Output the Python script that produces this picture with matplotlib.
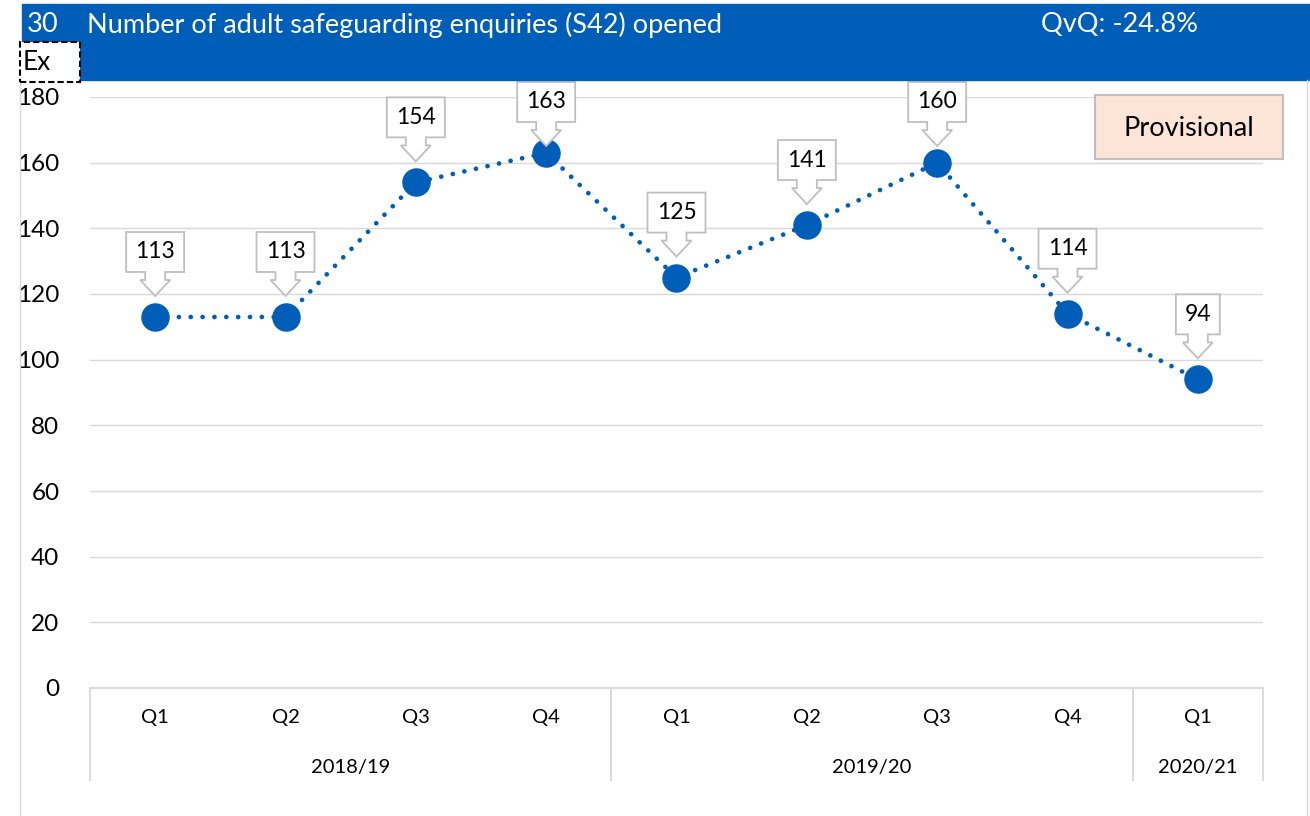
import matplotlib.pyplot as plt
import matplotlib.transforms as mtransforms
from matplotlib.patches import Rectangle, Polygon

plt.rcParams['font.family'] = ['Lato', 'DejaVu Sans']

quarters = ['Q1', 'Q2', 'Q3', 'Q4', 'Q1', 'Q2', 'Q3', 'Q4', 'Q1']
years = ['2018/19', '2019/20', '2020/21']
year_spans = [(0, 4), (4, 8), (8, 9)]
values = [113, 113, 154, 163, 125, 141, 160, 114, 94]

blue = '#005EB8'
W, H = 1310, 816

fig = plt.figure(figsize=(W / 100, H / 100), dpi=100)

def fx(px):
    return px / W

def fy(py):
    return 1 - py / H

# header band
fig.patches.append(Rectangle((fx(22), fy(80)), fx(1310 - 22), 76 / H,
                             transform=fig.transFigure, color=blue, zorder=0))
fig.text(fx(27), fy(25), '30', color='white', fontsize=19.5, va='center')
fig.text(fx(87), fy(25), 'Number of adult safeguarding enquiries (S42) opened',
         color='white', fontsize=19.5, va='center')
fig.text(fx(1041), fy(25), 'QvQ: -24.8%', color='white', fontsize=19.5, va='center')

# chart frame
fig.add_artist(plt.Line2D([fx(20), fx(20)], [fy(82), 0], transform=fig.transFigure,
                          color='#d9d9d9', lw=1))
fig.add_artist(plt.Line2D([fx(1307), fx(1307)], [fy(80), 0], transform=fig.transFigure,
                          color='#d9d9d9', lw=1))

# "Ex" box
fig.patches.append(Rectangle((fx(20), fy(82)), 60 / W, 40 / H, transform=fig.transFigure,
                             facecolor='white', edgecolor='black', lw=1.5,
                             linestyle=(0, (3, 1.5)), zorder=3))
fig.text(fx(23), fy(63), 'Ex', color='black', fontsize=19, va='center', zorder=4)

ax = fig.add_axes([fx(90), fy(688), fx(1263 - 90), (688 - 97) / H])
x = list(range(len(values)))
ax.set_xlim(-0.5, len(values) - 0.5)
ax.set_ylim(0, 180)
ax.set_yticks(range(0, 181, 20))
ax.tick_params(axis='y', length=0, pad=22, labelsize=17.5)
ax.set_xticks([])
ax.grid(axis='y', color='#d9d9d9', lw=1)
ax.set_axisbelow(True)
for s in ax.spines.values():
    s.set_visible(False)

ax.plot(x, values, color=blue, lw=3.4, linestyle=(0, (0.01, 2.5)),
        dash_capstyle='round', zorder=2)
ax.plot(x, values, 'o', color=blue, markersize=19.5, zorder=3)

# callouts (kept inside the chart area: top no higher than y=82px)
px_per_unit = 591 / 180
for xi, v in zip(x, values):
    cy = 688 - v * px_per_unit
    shift = max(0, 82 - (cy - 85))
    hw = 29 if v >= 100 else 22
    pts = [(-hw, 85), (hw, 85), (hw, 45), (10, 45), (10, 37), (15, 37), (0, 21),
           (-15, 37), (-10, 37), (-10, 45), (-hw, 45)]
    pts = [(px / 100, (py - shift) / 100) for px, py in pts]
    tr = fig.dpi_scale_trans + mtransforms.ScaledTranslation(xi, v, ax.transData)
    ax.add_patch(Polygon(pts, closed=True, transform=tr, facecolor='white',
                         edgecolor='#bfbfbf', lw=1.3, zorder=4, clip_on=False))
    ax.text(0, (65 - shift) / 100, str(v), transform=tr, ha='center', va='center',
            fontsize=16.5, zorder=5)

# category axis
bt = ax.get_xaxis_transform()
ax.plot([-0.5, len(values) - 0.5], [0, 0], transform=bt, color='#d9d9d9', lw=1.3,
        clip_on=False)
for xi, q in zip(x, quarters):
    ax.text(xi, -29 / 591, q, transform=bt, ha='center', va='center', fontsize=14.5)
for (a, b), yr in zip(year_spans, years):
    ax.text((a + b - 1) / 2, -79 / 591, yr, transform=bt, ha='center', va='center',
            fontsize=14.5)
for a, b in year_spans:
    for edge in (a - 0.5, b - 0.5):
        ax.plot([edge, edge], [0, -92 / 591], transform=bt, color='#d9d9d9',
                lw=1.3, clip_on=False)

# provisional box
fig.patches.append(Rectangle((fx(1095), fy(159)), 188 / W, 64 / H,
                             transform=fig.transFigure, facecolor='#FCE4D6',
                             edgecolor='#bfbfbf', lw=1.5, zorder=5))
fig.text(fx(1189), fy(128), 'Provisional', ha='center', va='center', fontsize=19.5,
         zorder=6)

fig.savefig('out.png', dpi=100)
